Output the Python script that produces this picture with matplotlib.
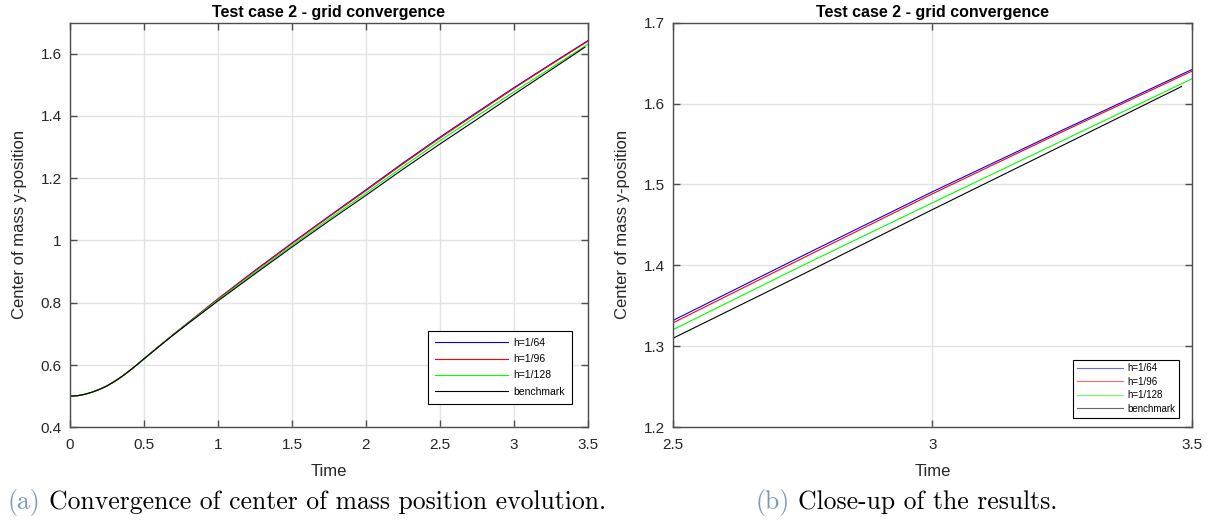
import numpy as np
import matplotlib
matplotlib.use('Agg')
import matplotlib.pyplot as plt

plt.rcParams['font.family'] = ['Liberation Sans', 'DejaVu Sans']

# ====== Data: center of mass y-position vs time ======
# early rise is shared by all resolutions
time = [0.0, 0.05, 0.1, 0.15, 0.2, 0.25, 0.3, 0.35, 0.4, 0.45, 0.5, 0.6, 0.7,
        0.8, 0.9, 1.0, 1.25, 1.5, 1.75, 2.0, 2.25, 2.5, 2.75, 3.0, 3.25, 3.5]
y_h64 = [0.500, 0.5015, 0.506, 0.513, 0.522, 0.533, 0.547, 0.563, 0.581, 0.600,
         0.620, 0.660, 0.699, 0.737, 0.775, 0.813, 0.904, 0.992, 1.078, 1.163,
         1.249, 1.332, 1.412, 1.491, 1.567, 1.642]
y_h96 = [0.500, 0.5015, 0.506, 0.513, 0.522, 0.533, 0.547, 0.563, 0.581, 0.600,
         0.620, 0.660, 0.699, 0.736, 0.774, 0.812, 0.902, 0.990, 1.076, 1.160,
         1.246, 1.329, 1.409, 1.4885, 1.565, 1.640]
y_h128 = [0.500, 0.5015, 0.506, 0.513, 0.522, 0.533, 0.547, 0.563, 0.581, 0.600,
          0.620, 0.659, 0.698, 0.735, 0.772, 0.809, 0.897, 0.984, 1.069, 1.152,
          1.237, 1.3206, 1.400, 1.4774, 1.554, 1.6305]
time_bench = [0.0, 0.05, 0.1, 0.15, 0.2, 0.25, 0.3, 0.35, 0.4, 0.45, 0.5, 0.6, 0.7,
              0.8, 0.9, 1.0, 1.25, 1.5, 1.75, 2.0, 2.25, 2.5, 2.75, 3.0, 3.25, 3.48]
y_bench = [0.500, 0.5015, 0.506, 0.513, 0.522, 0.533, 0.547, 0.563, 0.581, 0.600,
           0.620, 0.659, 0.697, 0.734, 0.770, 0.806, 0.893, 0.979, 1.063, 1.145,
           1.229, 1.310, 1.389, 1.469, 1.548, 1.621]

series = [
    (time, y_h64, 'h=1/64', '#0000ff'),
    (time, y_h96, 'h=1/96', '#ff0000'),
    (time, y_h128, 'h=1/128', '#00ff00'),
    (time_bench, y_bench, 'benchmark', '#000000'),
]

title = 'Test case 2 - grid convergence'
left_xticks = [0, 0.5, 1, 1.5, 2, 2.5, 3, 3.5]
left_yticks = [0.4, 0.6, 0.8, 1.0, 1.2, 1.4, 1.6]
right_xticks = [2.5, 3, 3.5]
right_yticks = [1.2, 1.3, 1.4, 1.5, 1.6, 1.7]

axis_color = '#4d4d4d'
text_color = '#262626'

fig = plt.figure(figsize=(12.1, 5.27), dpi=100)
ax1 = fig.add_axes([0.0579, 0.1892, 0.428, 0.768])
ax2 = fig.add_axes([0.5562, 0.1892, 0.4289, 0.768])


def style_axes(ax, xlim, ylim, xticks, yticks):
    ax.set_xlim(*xlim)
    ax.set_ylim(*ylim)
    ax.set_xticks(xticks)
    ax.set_yticks(yticks)
    ax.set_xticklabels([f'{v:g}' for v in xticks])
    ax.set_yticklabels([f'{v:g}' for v in yticks])
    ax.grid(True, color='#e3e3e3', linewidth=1.0)
    ax.set_axisbelow(True)
    for sp in ax.spines.values():
        sp.set_color(axis_color)
        sp.set_linewidth(1.0)
    ax.tick_params(direction='in', length=5, width=1.0, color=axis_color,
                   top=True, right=True, labelsize=11, labelcolor=text_color)
    ax.tick_params(axis='x', pad=8)
    ax.tick_params(axis='y', pad=6)
    ax.set_xlabel('Time', fontsize=12, color=text_color, labelpad=8)
    ax.set_ylabel('Center of mass y-position', fontsize=12, color=text_color, labelpad=10)
    ax.set_title(title, fontsize=11.5, fontweight='bold', color='black', pad=4)


for ax in (ax1, ax2):
    for t, y, label, color in series:
        ax.plot(t, y, color=color, linewidth=0.8, label=label)

style_axes(ax1, (0, 3.5), (0.4, 1.7), left_xticks, left_yticks)
style_axes(ax2, (2.5, 3.5), (1.2, 1.7), right_xticks, right_yticks)

leg1 = ax1.legend(loc='lower right', bbox_to_anchor=(0.969, 0.0576), borderaxespad=0,
                  fontsize=7.5, labelspacing=0.6, handlelength=7.0, handletextpad=0.5,
                  fancybox=False, framealpha=1, edgecolor='black', borderpad=0.7)
leg1.get_frame().set_linewidth(0.8)

leg2 = ax2.legend(loc='lower right', bbox_to_anchor=(0.975, 0.024), borderaxespad=0,
                  fontsize=7, labelspacing=0.35, handlelength=4.8, handletextpad=0.4,
                  fancybox=False, framealpha=1, edgecolor='black', borderpad=0.4)
leg2.get_frame().set_linewidth(0.8)
for line in leg2.get_lines():
    line.set_alpha(0.6)

# Sub-figure captions: coloured tag followed by black text
cap_color = '#7a9bb8'
cap_y = 0.035
renderer = fig.canvas.get_renderer()


def caption(x_px, tag, body):
    t = fig.text(x_px / 1210, cap_y, tag, family='cmr10', fontsize=18.5,
                 color=cap_color, va='baseline')
    bb = t.get_window_extent(renderer=renderer)
    fig.text((bb.x1 + 8) / 1210, cap_y, body, family='cmr10', fontsize=18.5,
             color='black', va='baseline')


caption(8, '(a)', 'Convergence of center of mass position evolution.')
caption(756, '(b)', 'Close-up of the results.')

fig.savefig('out.png', dpi=100)
